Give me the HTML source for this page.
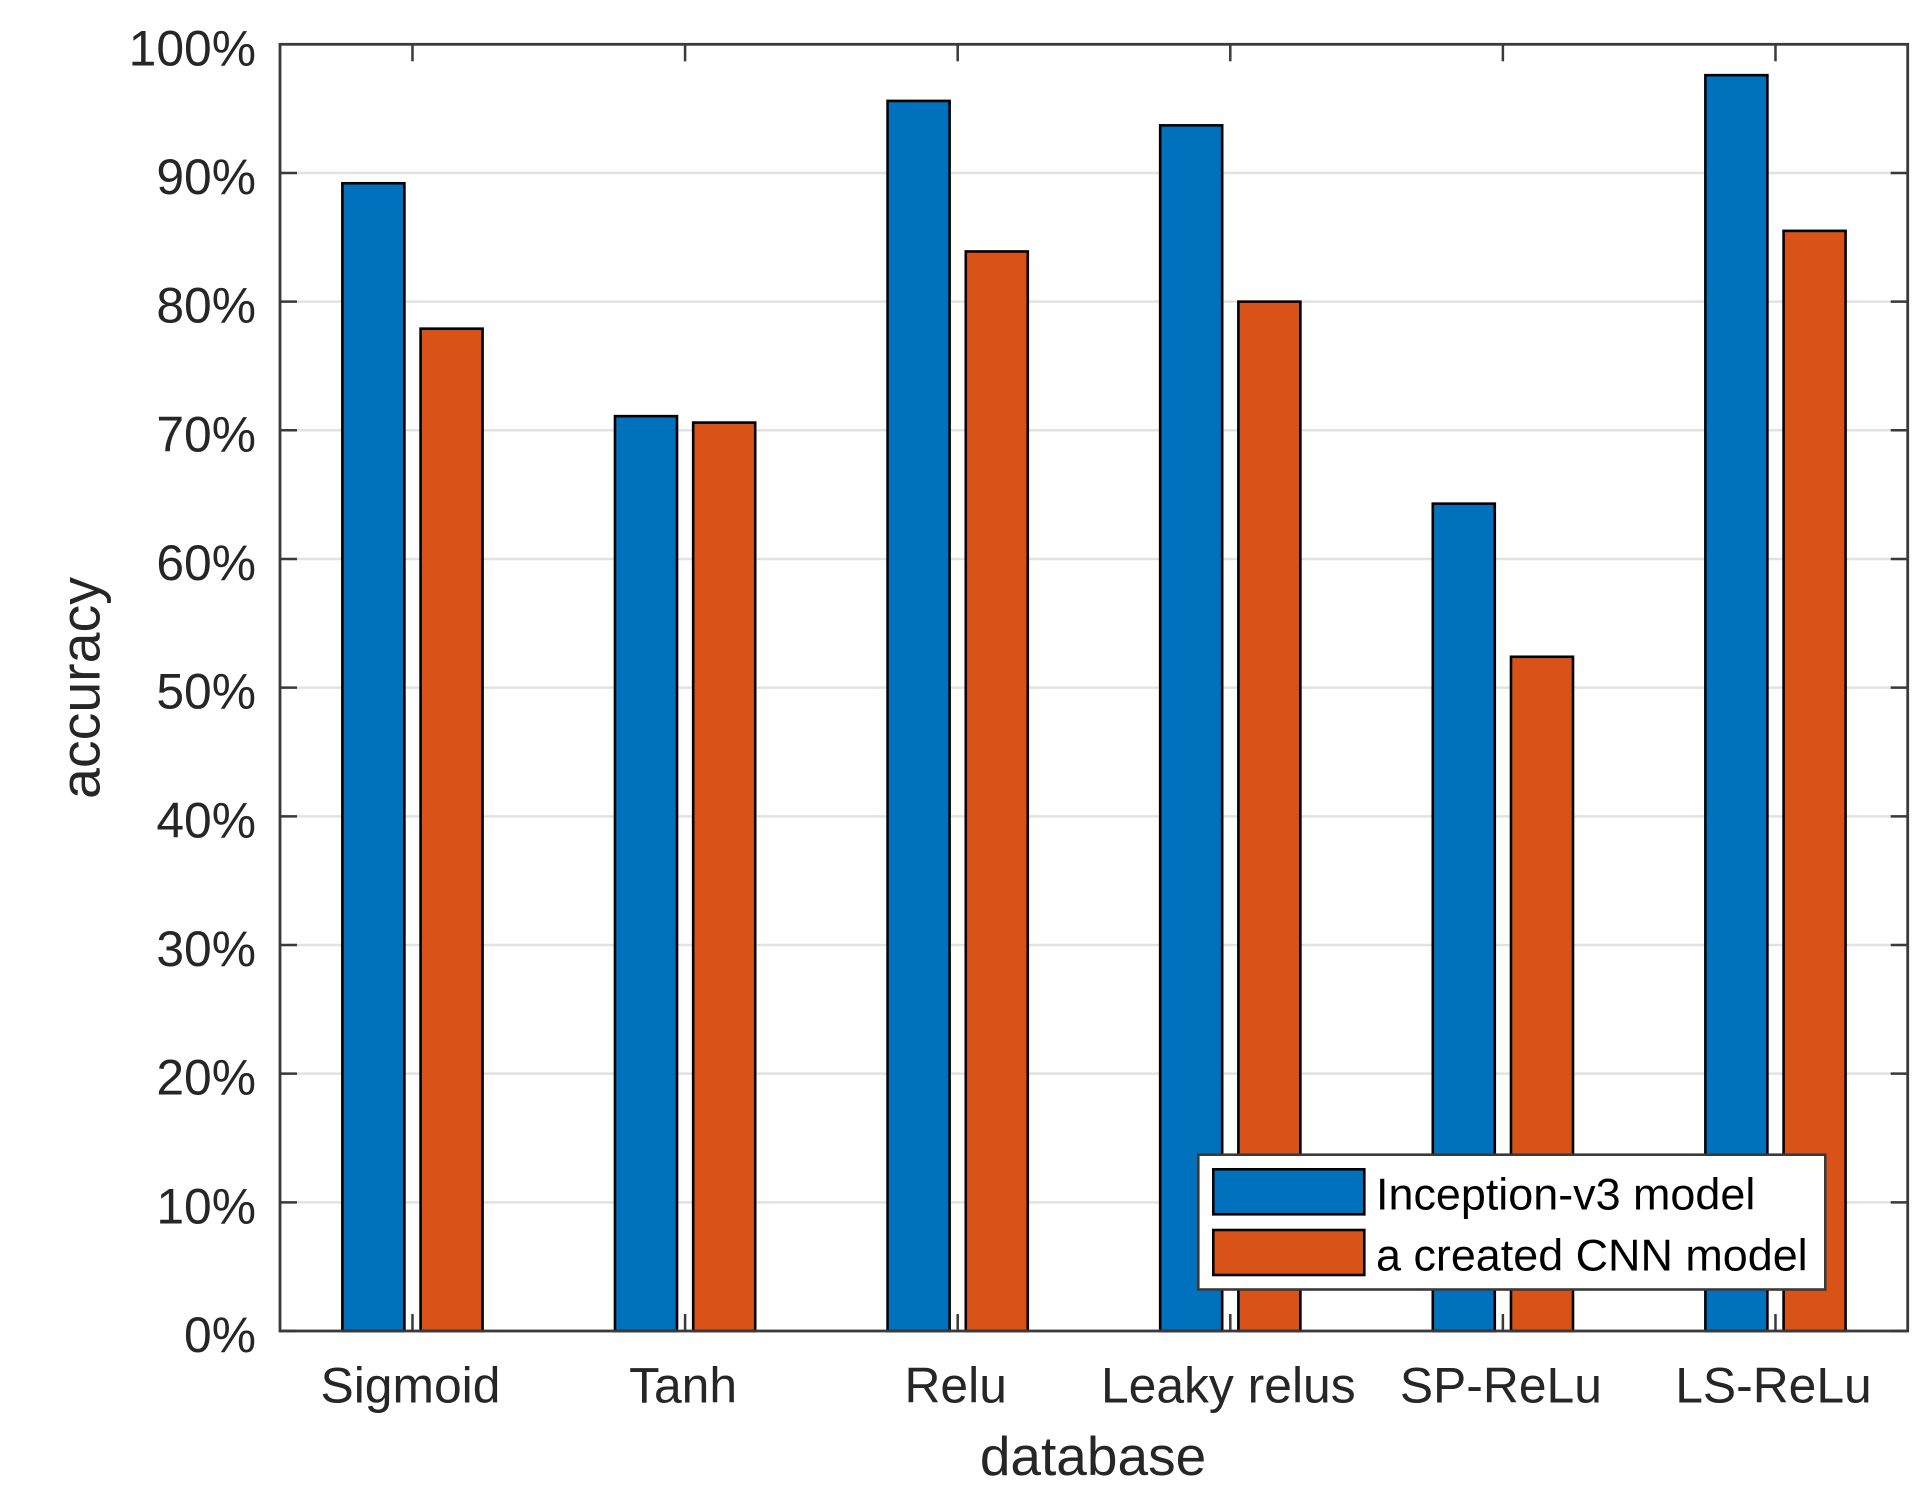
<!DOCTYPE html>
<html lang="en">
<head>
<meta charset="utf-8">
<title>Accuracy by activation function</title>
<style>
  html, body { margin: 0; padding: 0; background: #ffffff; }
  #chart { display: block; width: 1932px; height: 1500px; }
  text { font-family: "Liberation Sans", Arial, sans-serif; }
</style>
</head>
<body>
<svg id="chart" xmlns="http://www.w3.org/2000/svg" width="1932" height="1500" viewBox="0 0 1932 1500"></svg>
<script>
const categories = ['Sigmoid', 'Tanh', 'Relu', 'Leaky relus', 'SP-ReLu', 'LS-ReLu'];
const inceptionValues = [89.2, 71.1, 95.6, 93.7, 64.3, 97.6];
const cnnValues = [77.9, 70.6, 83.9, 80.0, 52.4, 85.5];
const yTickValues = [0, 10, 20, 30, 40, 50, 60, 70, 80, 90, 100];
const seriesNames = ['Inception-v3 model', 'a created CNN model'];

const svg = document.getElementById('chart');
const NS = 'http://www.w3.org/2000/svg';
const plot = { left: 280, right: 1907.7, top: 44.3, bottom: 1331 };
const xMin = 0.514;
const xMax = 6.485;
const yMin = 0;
const yMax = 100;
const BLUE = '#0072BD';
const ORANGE = '#D95319';
const AXIS = '#3a3a3a';
const INK = '#262626';

function xScale(v) {
  return plot.left + (v - xMin) / (xMax - xMin) * (plot.right - plot.left);
}
function yScale(v) {
  return plot.bottom - (v - yMin) / (yMax - yMin) * (plot.bottom - plot.top);
}
function make(tag, attrs) {
  const el = document.createElementNS(NS, tag);
  Object.keys(attrs).forEach(function (k) { el.setAttribute(k, attrs[k]); });
  return el;
}

const background = make('rect', { x: 0, y: 0, width: 1932, height: 1500, fill: '#ffffff' });


svg.appendChild(background);

yTickValues.forEach(function (t) {
  if (t === yMin || t === yMax) return;
  const grid = make('line', { x1: plot.left, x2: plot.right, y1: yScale(t), y2: yScale(t), stroke: '#e2e2e2', 'stroke-width': 2.5 });
  
  
  svg.appendChild(grid);
});

const tickLen = 17;
categories.forEach(function (c, i) {
  const x = xScale(i + 1);
  const bottomTick = make('line', { x1: x, x2: x, y1: plot.bottom, y2: plot.bottom - tickLen, stroke: AXIS, 'stroke-width': 2.5 });
  
  
  svg.appendChild(bottomTick);
  const topTick = make('line', { x1: x, x2: x, y1: plot.top, y2: plot.top + tickLen, stroke: AXIS, 'stroke-width': 2.5 });
  
  
  svg.appendChild(topTick);
  const label = make('text', { x: x - 2, y: 1402.5, 'text-anchor': 'middle', 'font-size': 49.8, fill: INK });
  label.textContent = c;
  
  
  svg.appendChild(label);
});

yTickValues.forEach(function (t) {
  const y = yScale(t);
  const leftTick = make('line', { x1: plot.left, x2: plot.left + tickLen, y1: y, y2: y, stroke: AXIS, 'stroke-width': 2.5 });
  
  
  svg.appendChild(leftTick);
  const rightTick = make('line', { x1: plot.right, x2: plot.right - tickLen, y1: y, y2: y, stroke: AXIS, 'stroke-width': 2.5 });
  
  
  svg.appendChild(rightTick);
  const label = make('text', { x: 256, y: y + 21, 'text-anchor': 'end', 'font-size': 49.8, fill: INK });
  label.textContent = t + '%';
  
  
  svg.appendChild(label);
});

const barWidthUnits = 62 / 272.6;
const barOffsetUnits = 39.1 / 272.6;
function drawBar(value, i, sign, color, name) {
  const x0 = xScale(i + 1 + sign * barOffsetUnits - barWidthUnits / 2);
  const x1 = xScale(i + 1 + sign * barOffsetUnits + barWidthUnits / 2);
  const yTop = yScale(value);
  const bar = make('rect', { x: x0, y: yTop, width: x1 - x0, height: yScale(0) - yTop, fill: color, stroke: '#000000', 'stroke-width': 2.6 });
  
  
  svg.appendChild(bar);
}
inceptionValues.forEach(function (v, i) { drawBar(v, i, -1, BLUE, 'bar-inception-v3'); });
cnnValues.forEach(function (v, i) { drawBar(v, i, 1, ORANGE, 'bar-created-cnn'); });

const axisBox = make('rect', { x: plot.left, y: plot.top, width: plot.right - plot.left, height: plot.bottom - plot.top, fill: 'none', stroke: AXIS, 'stroke-width': 2.8 });


svg.appendChild(axisBox);

const xTitle = make('text', { x: 1093, y: 1475, 'text-anchor': 'middle', 'font-size': 55, fill: INK });
xTitle.textContent = 'database';


svg.appendChild(xTitle);

const yTitle = make('text', { x: 0, y: 0, 'text-anchor': 'middle', 'font-size': 55.5, fill: INK, transform: 'translate(99.5 688) rotate(-90)' });
yTitle.textContent = 'accuracy';


svg.appendChild(yTitle);

const legendBox = make('rect', { x: 1198.3, y: 1154.7, width: 627, height: 134.8, fill: '#ffffff', stroke: AXIS, 'stroke-width': 2.6 });


svg.appendChild(legendBox);

const swatchColors = [BLUE, ORANGE];
const swatchTops = [1169.3, 1230];
const labelBaselines = [1209.5, 1270.5];
seriesNames.forEach(function (n, i) {
  const swatch = make('rect', { x: 1213.3, y: swatchTops[i], width: 151, height: 45, fill: swatchColors[i], stroke: '#000000', 'stroke-width': 2.6 });
  
  
  svg.appendChild(swatch);
  const label = make('text', { x: 1376, y: labelBaselines[i], 'font-size': 44.9, fill: '#000000' });
  label.textContent = n;
  
  
  svg.appendChild(label);
});
</script>
</body>
</html>
